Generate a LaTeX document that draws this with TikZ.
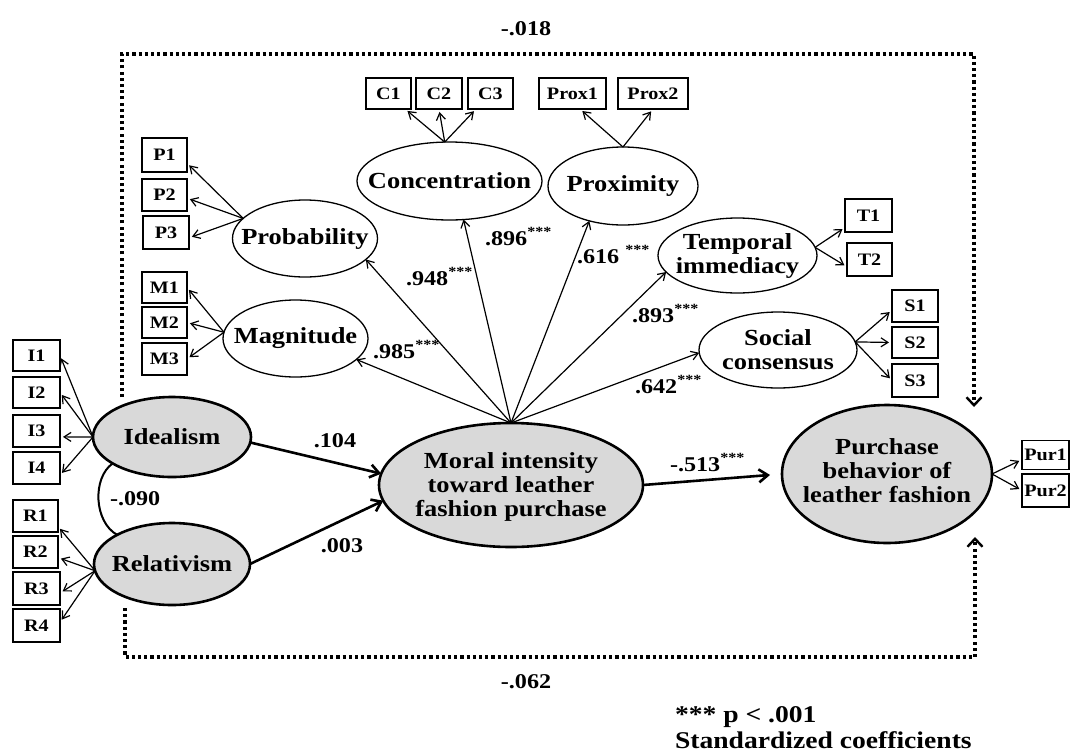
\documentclass[tikz,border=0pt]{standalone}
\usepackage{fontspec}
\setmainfont{Liberation Serif}[FakeStretch=1.15]
\usetikzlibrary{shapes.geometric,arrows.meta}
\definecolor{latentfill}{RGB}{217,217,217}
\newcommand\stars{\raisebox{8.5pt}{\fontsize{14}{14}\selectfont ***}}
\begin{document}
\begin{tikzpicture}[x=1pt,y=-1pt,
  every node/.style={inner sep=0pt,outer sep=0pt},
  obs/.style={draw,line width=1.4pt,fill=white,minimum height=32pt,minimum width=45pt,
    font=\fontsize{17.5}{18}\selectfont\bfseries},
  lat/.style={ellipse,draw,line width=1.3pt,fill=white},
  core/.style={ellipse,draw,line width=2.6pt,fill=latentfill},
  ltext/.style={align=center,font=\fontsize{23}{24}\selectfont\bfseries},
  coef/.style={anchor=base west,font=\fontsize{21}{21}\selectfont\bfseries},
  load/.style={line width=1.2pt,-{Straight Barb[length=7pt,width=9pt]}},
  ind/.style={load,shorten >=3pt},
  struct/.style={line width=2.6pt,-{Straight Barb[length=9pt,width=13pt]}},
  direct/.style={line width=3.3pt,line cap=butt,dash pattern=on 3.1pt off 3.1pt,
    -{Straight Barb[length=8pt,width=15pt,line width=2.4pt]}},
  legend/.style={anchor=base west,font=\fontsize{24}{24}\selectfont\bfseries},
]
\fill[white] (0,0) rectangle (1071,753);
\useasboundingbox (0,0) rectangle (1071,753);

% ---- latent variables ----
\node[lat,minimum width=185pt,minimum height=78pt] (conc) at (449.5,181) {};
\node[lat,minimum width=150pt,minimum height=78pt] (prox) at (623,186) {};
\node[lat,minimum width=145pt,minimum height=77pt] (prob) at (305,238.5) {};
\node[lat,minimum width=145pt,minimum height=77pt] (mag) at (295.5,338.5) {};
\node[lat,minimum width=159pt,minimum height=75pt] (temp) at (737.5,255.5) {};
\node[lat,minimum width=158pt,minimum height=76pt] (soc) at (778,350) {};
\node[core,minimum width=158pt,minimum height=80pt] (ideal) at (172,437) {};
\node[core,minimum width=156pt,minimum height=82pt] (rel) at (172,564) {};
\node[core,minimum width=264pt,minimum height=124pt] (moral) at (511,485) {};
\node[core,minimum width=210pt,minimum height=138pt] (purch) at (887,474) {};

\node[ltext] (conc-t) at (conc) {Concentration};
\node[ltext] (prox-t) at (prox) {Proximity};
\node[ltext] (prob-t) at (prob) {Probability};
\node[ltext] (mag-t) at (mag) {Magnitude};
\node[ltext] (temp-t) at (temp) {Temporal\\immediacy};
\node[ltext] (soc-t) at (soc) {Social\\consensus};
\node[ltext] (ideal-t) at (ideal) {Idealism};
\node[ltext] (rel-t) at (rel) {Relativism};
\node[ltext] (moral-t) at (511,487) {Moral intensity\\toward leather\\fashion purchase};
\node[ltext] (purch-t) at (887,471) {Purchase\\behavior of\\leather fashion};

% ---- indicators ----
\node[obs,minimum height=34pt] (P1) at (164.5,155) {P1};
\node[obs] (P2) at (164.5,195) {P2};
\node[obs,minimum width=46pt,minimum height=33pt] (P3) at (166,232.5) {P3};
\node[obs,minimum height=31pt] (M1) at (164.5,287.5) {M1};
\node[obs,minimum height=31pt] (M2) at (164.5,322.5) {M2};
\node[obs] (M3) at (164.5,359) {M3};
\node[obs,minimum width=47pt,minimum height=31pt] (I1) at (36.5,355.5) {I1};
\node[obs,minimum width=47pt,minimum height=31pt] (I2) at (36.5,392.5) {I2};
\node[obs,minimum width=47pt] (I3) at (36.5,431) {I3};
\node[obs,minimum width=47pt] (I4) at (36.5,468) {I4};
\node[obs] (R1) at (35.5,516) {R1};
\node[obs] (R2) at (35.5,552) {R2};
\node[obs,minimum width=47pt,minimum height=33pt] (R3) at (36.5,588.5) {R3};
\node[obs,minimum width=47pt,minimum height=33pt] (R4) at (36.5,625.5) {R4};
\node[obs,minimum height=31pt] (C1) at (388.5,93.5) {C1};
\node[obs,minimum width=46pt,minimum height=31pt] (C2) at (439,93.5) {C2};
\node[obs,minimum height=31pt] (C3) at (490.5,93.5) {C3};
\node[obs,minimum width=67pt,minimum height=31pt] (X1) at (572.5,93.5) {Prox1};
\node[obs,minimum width=70pt,minimum height=31pt] (X2) at (653,93.5) {Prox2};
\node[obs,minimum width=47pt,minimum height=33pt] (T1) at (868.5,215.5) {T1};
\node[obs,minimum height=33pt] (T2) at (869.5,259.5) {T2};
\node[obs,minimum width=46pt] (S1) at (915,306) {S1};
\node[obs,minimum width=46pt,minimum height=31pt] (S2) at (915,342.5) {S2};
\node[obs,minimum width=46pt,minimum height=33pt] (S3) at (915,380.5) {S3};
\node[obs,minimum width=47pt,minimum height=29pt] (U1) at (1045.5,455) {Pur1};
\node[obs,minimum width=47pt,minimum height=33pt] (U2) at (1045.5,490.5) {Pur2};

% ---- measurement arrows ----
\draw[ind] (prob.162) -- (P1.-20);
\draw[ind] (prob.162) -- (P2.-8);
\draw[ind] (prob.162) -- (P3.-13);
\draw[ind] (mag.175) -- (M1.east);
\draw[ind] (mag.175) -- (M2.east);
\draw[ind] (mag.175) -- (M3.east);
\draw[ind] (conc.97) -- (C1.-43);
\draw[ind] (conc.97) -- (C2.south);
\draw[ind] (conc.97) -- (C3.-133);
\draw[ind] (prox.north) -- (X1.-64);
\draw[ind] (prox.north) -- (X2.south);
\draw[ind] (temp.6) -- (T1.207);
\draw[ind] (temp.6) -- (T2.198);
\draw[ind] (soc.6) -- (S1.190);
\draw[ind] (soc.6) -- (S2.west);
\draw[ind] (soc.6) -- (S3.west);
\draw[ind] (ideal.west) -- (I1.east);
\draw[ind] (ideal.west) -- (I2.east);
\draw[ind] (ideal.west) -- (I3.-14);
\draw[ind] (ideal.west) -- (I4.-17);
\draw[ind] (rel.185) -- (R1.-25);
\draw[ind] (rel.185) -- (R2.-14);
\draw[ind] (rel.185) -- (R3.-11);
\draw[ind] (rel.185) -- (R4.8);
\draw[ind] (purch.east) -- (U1.191);
\draw[ind] (purch.east) -- (U2.west);

% ---- second-order loadings ----
\draw[load] (moral.north) -- (mag.-19);
\draw[load] (moral.north) -- (prob.-19);
\draw[load] (moral.north) -- (conc.-70);
\draw[load] (moral.north) -- (prox.226);
\draw[load] (moral.north) -- (temp.193);
\draw[load] (moral.north) -- (soc.182);

% ---- structural paths ----
\draw[struct] (ideal.-4) -- (moral.175);
\draw[struct] (rel.east) -- (moral.187);
\draw[struct,shorten >=12pt] (moral.east) -- (purch.west);
\draw[line width=2pt] (ideal.204) .. controls (92,478) and (94,522) .. (rel.152);

% ---- direct effects ----
\coordinate (d1s) at (122,397);
\coordinate (d1e) at (974,407);
\coordinate (d2s) at (125,608);
\coordinate (d2e) at (975,537);
\draw[direct] (d1s) -- (122,54) -- (974,54) -- (d1e);
\draw[direct] (d2s) -- (125,657) -- (975,657) -- (d2e);

% ---- coefficients ----
\node[coef,anchor=base] (c018) at (526,35) {-.018};
\node[coef,anchor=base] (c062) at (526,688) {-.062};
\node[coef] (c948) at (406,285) {.948\stars};
\node[coef] (c896) at (485,245) {.896\stars};
\node[coef] (c616) at (577,263) {.616 \stars};
\node[coef] (c893) at (632,322) {.893\stars};
\node[coef] (c985) at (373,358) {.985\stars};
\node[coef] (c642) at (635,393) {.642\stars};
\node[coef] (c513) at (670,471) {-.513\stars};
\node[coef,anchor=base] (c104) at (335,447) {.104};
\node[coef,anchor=base] (c003) at (342,552) {.003};
\node[coef] (c090) at (110,505) {-.090};

% ---- legend ----
\node[legend] (leg1) at (675,722) {*** p < .001};
\node[legend] (leg2) at (675,748) {Standardized coefficients};
\end{tikzpicture}
\end{document}
